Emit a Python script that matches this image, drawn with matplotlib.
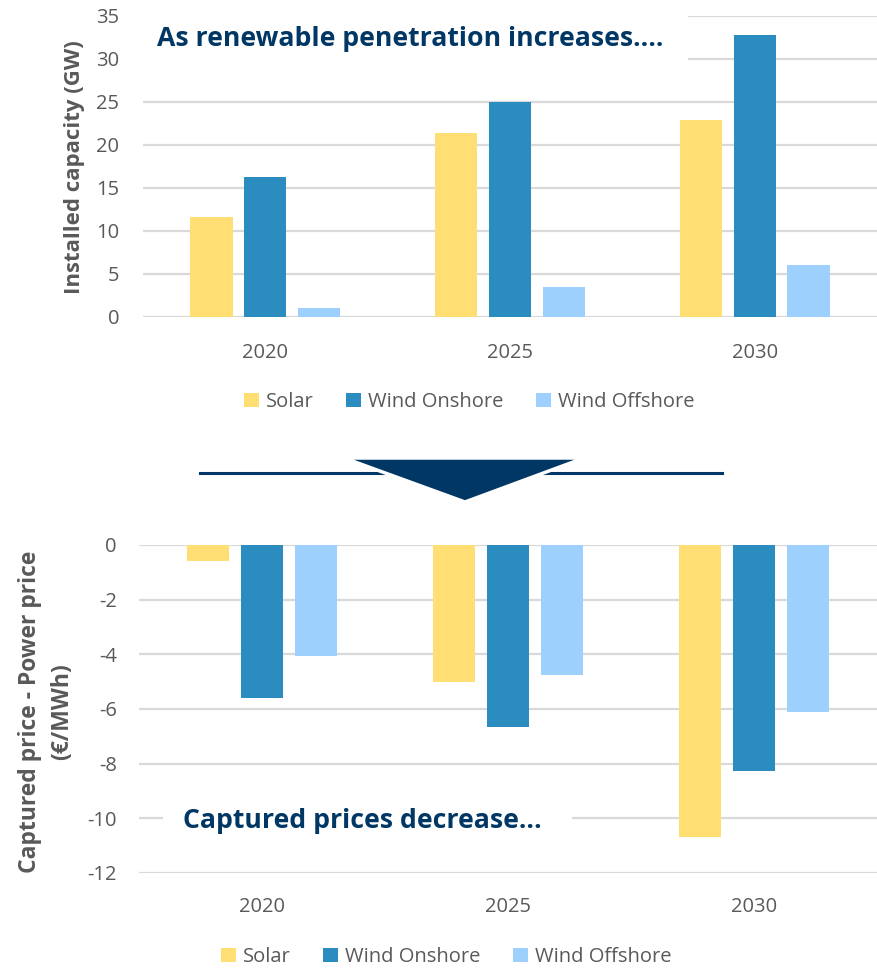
import matplotlib
matplotlib.use("Agg")
import matplotlib.pyplot as plt
from matplotlib.patches import Rectangle, Polygon
from matplotlib.lines import Line2D
import numpy as np

plt.rcParams['font.family'] = ['Open Sans', 'DejaVu Sans']
plt.rcParams['axes.unicode_minus'] = False

years = ['2020', '2025', '2030']
series = ['Solar', 'Wind Onshore', 'Wind Offshore']
colors = ['#FFDE73', '#2B8CC0', '#9DD0FD']

capacity_solar = [11.6, 21.4, 22.9]
capacity_onshore = [16.3, 25.0, 32.7]
capacity_offshore = [1.0, 3.5, 6.0]

price_solar = [-0.6, -5.0, -10.7]
price_onshore = [-5.6, -6.67, -8.28]
price_offshore = [-4.05, -4.76, -6.12]

W, H = 878, 968
GREY = '#595959'
NAVY = '#003764'
GRID = '#D9D9D9'


def fx(px):
    return px / W


def fy(py):
    return 1 - py / H


fig = plt.figure(figsize=(8.78, 9.68), dpi=100)

x = np.arange(len(years))
offsets = [-0.22, 0.0, 0.22]
bw = 0.172


def style(ax, xpad, ypad):
    ax.set_xlim(-0.5, 2.5)
    for s in ax.spines.values():
        s.set_visible(False)
    ax.yaxis.grid(True, color=GRID, linewidth=1.6)
    ax.set_axisbelow(True)
    ax.set_xticks(x)
    ax.set_xticklabels(years)
    ax.tick_params(axis='both', length=0, labelsize=14.5, labelcolor=GREY)
    ax.tick_params(axis='x', pad=xpad)
    ax.tick_params(axis='y', pad=ypad)


# top chart: installed capacity
ax1 = fig.add_axes([fx(143), fy(317), fx(877 - 143), (317 - 15.7) / H])
for vals, off, c, name in zip([capacity_solar, capacity_onshore, capacity_offshore], offsets, colors, series):
    ax1.bar(x + off, vals, bw, color=c, label=name)
ax1.set_ylim(0, 35)
ax1.set_yticks(range(0, 36, 5))
style(ax1, 19, 17)

# bottom chart: captured price minus power price
ax2 = fig.add_axes([fx(139), fy(873), fx(877 - 139), (873 - 545) / H])
for vals, off, c, name in zip([price_solar, price_onshore, price_offshore], offsets, colors, series):
    ax2.bar(x + off, vals, bw, color=c, label=name)
ax2.set_ylim(-12, 0)
ax2.set_yticks(range(-12, 1, 2))
style(ax2, 17, 16)

# axis titles
fig.text(fx(75), fy(167), 'Installed capacity (GW)', rotation=90, ha='center', va='center',
         fontsize=16, fontweight='bold', color=GREY)
fig.text(fx(46), fy(712), 'Captured price - Power price\n(€/MWh)', rotation=90, ha='center',
         va='center', multialignment='center', fontsize=16.5, fontweight='bold', color=GREY,
         linespacing=1.45)

# white boxes behind the call-out texts (hide gridlines)
fig.patches.append(Rectangle((fx(143), fy(75)), fx(688 - 143), 70 / H, transform=fig.transFigure,
                             facecolor='white', edgecolor='none', zorder=1))
fig.patches.append(Rectangle((fx(163), fy(850)), fx(572 - 163), 60 / H, transform=fig.transFigure,
                             facecolor='white', edgecolor='none', zorder=1))
fig.text(fx(157), fy(39), 'As renewable penetration increases….', ha='left', va='center',
         fontsize=19.2, fontweight='bold', color=NAVY, zorder=3)
fig.text(fx(183), fy(821), 'Captured prices decrease…', ha='left', va='center',
         fontsize=19.2, fontweight='bold', color=NAVY, zorder=3)

# arrow between charts
fig.lines.append(Line2D([fx(200), fx(722)], [fy(473), fy(473)], transform=fig.transFigure,
                        color=NAVY, linewidth=2.2, zorder=2))
fig.patches.append(Polygon([(fx(344), fy(458)), (fx(584), fy(458)), (fx(465), fy(502))],
                           closed=True, transform=fig.transFigure, facecolor=NAVY,
                           edgecolor='white', linewidth=2.5, zorder=3))

# legends
h, l = ax1.get_legend_handles_labels()
leg_kw = dict(ncol=3, frameon=False, fontsize=14.5, handlelength=0.75, handleheight=0.75,
              handletextpad=0.35, columnspacing=1.6, labelcolor=GREY, loc='center')
fig.legend(h, l, bbox_to_anchor=(fx(469), fy(402)), **leg_kw)
fig.legend(h, l, bbox_to_anchor=(fx(446), fy(957)), **leg_kw)

fig.savefig('out.png', dpi=100)
